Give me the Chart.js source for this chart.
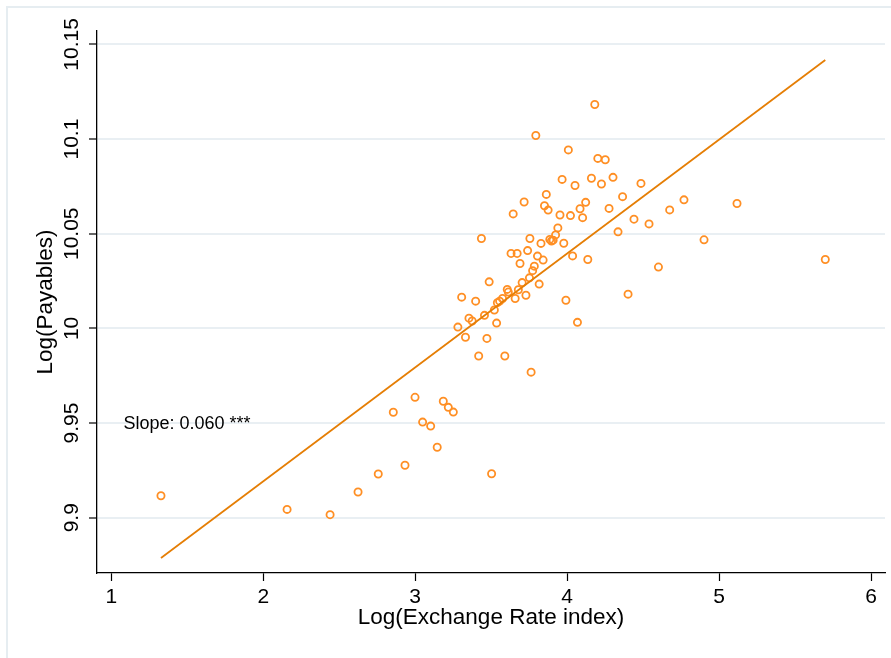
<!DOCTYPE html>
<html>
<head>
<meta charset="utf-8">
<title>Log(Payables) vs Log(Exchange Rate index)</title>
<script src="https://cdn.jsdelivr.net/npm/chart.js@4.4.0/dist/chart.umd.min.js"></script>
<style>
  html, body { margin: 0; padding: 0; background: #ffffff; }
  #wrap { width: 891px; height: 658px; }
</style>
</head>
<body>
<div id="wrap"><canvas id="chart" width="891" height="658"></canvas></div>
<script>
"use strict";

// Data
const xValues = [
  1.327, 2.157, 2.440, 2.624, 2.757, 2.856, 2.933, 2.999, 3.049, 3.102,
  3.145, 3.185, 3.218, 3.251, 3.503, 3.281, 3.331, 3.472, 3.418, 3.590,
  3.763, 3.354, 3.375, 3.456, 3.521, 3.536, 3.306, 3.398, 3.541, 3.556,
  3.575, 3.658, 3.729, 3.606, 3.613, 3.679, 3.487, 3.704, 3.816, 3.752,
  3.773, 3.784, 3.690, 3.842, 3.805, 3.631, 3.671, 3.740, 3.436, 3.755,
  3.828, 3.886, 3.908, 3.924, 3.939, 3.978, 4.036, 4.136, 3.992, 4.068,
  3.645, 3.717, 3.863, 3.851, 3.875, 3.794, 4.008, 3.953, 4.022, 4.102,
  4.085, 4.122, 3.967, 4.052, 4.160, 4.182, 4.202, 4.251, 4.302, 4.226,
  4.486, 4.365, 4.276, 4.440, 4.539, 4.335, 4.401, 4.601, 4.675, 4.769,
  4.901, 5.118, 5.699, 3.897
];
const yValues = [
  9.9116, 9.9044, 9.9016, 9.9136, 9.9231, 9.9557, 9.9277, 9.9636, 9.9505, 9.9484,
  9.9372, 9.9615, 9.9583, 9.9558, 9.9232, 10.0007, 9.9953, 9.9947, 9.9854, 9.9854,
  9.9769, 10.0054, 10.0039, 10.0069, 10.0097, 10.0028, 10.0165, 10.0144, 10.0136, 10.0144,
  10.0158, 10.0158, 10.0175, 10.0206, 10.0192, 10.0204, 10.0246, 10.0242, 10.0234, 10.0267,
  10.0305, 10.0329, 10.0343, 10.0361, 10.0382, 10.0396, 10.0396, 10.0411, 10.0475, 10.0475,
  10.0449, 10.0470, 10.0466, 10.0494, 10.0531, 10.0450, 10.0383, 10.0364, 10.0149, 10.0032,
  10.0605, 10.0668, 10.0708, 10.0648, 10.0625, 10.1019, 10.0943, 10.0599, 10.0596, 10.0585,
  10.0632, 10.0666, 10.0787, 10.0755, 10.0793, 10.1183, 10.0898, 10.0891, 10.0798, 10.0763,
  10.0766, 10.0696, 10.0634, 10.0577, 10.0552, 10.0510, 10.0181, 10.0324, 10.0626, 10.0679,
  10.0468, 10.0660, 10.0364, 10.0462
];

// Fitted line end points
const fitX = [1.327, 5.699];
const fitY = [9.8787, 10.1418];

// Axes
const xTickValues = [1, 2, 3, 4, 5, 6];
const xTickLabels = ["1", "2", "3", "4", "5", "6"];
const yTickValues = [9.9, 9.95, 10, 10.05, 10.1, 10.15];
const yTickLabels = ["9.9", "9.95", "10", "10.05", "10.1", "10.15"];
const xTitle = "Log(Exchange Rate index)";
const yTitle = "Log(Payables)";
const slopeNote = "Slope: 0.060 ***";
const slopeNoteAt = [1.08, 9.95];

const FONT = '"Liberation Sans", Arial, sans-serif';
const markerColor = "#ff8f24";
const lineColor = "#e57e05";
const gridColor = "#e9eff3";

const points = xValues.map((x, i) => ({ x, y: yValues[i] }));
const fitPoints = fitX.map((x, i) => ({ x, y: fitY[i] }));

// Draws tick labels, titles, note and outer frame by hand (rotated y labels)
const textPlugin = {
  id: "textPlugin",
  beforeDraw(chart) {
    const c = chart.ctx;
    c.save();
    c.strokeStyle = "#e6edf1";
    c.lineWidth = 2;
    c.strokeRect(7, 7, chart.width + 20, chart.height + 20);
    c.restore();
  },
  afterDraw(chart) {
    const { ctx: c, chartArea: area, scales } = chart;
    const xs = scales.x;
    const ys = scales.y;
    c.save();
    c.fillStyle = "#000000";
    c.textBaseline = "alphabetic";
    c.textAlign = "center";

    c.font = `21px ${FONT}`;
    xTickValues.forEach((v, i) => {
      c.fillText(xTickLabels[i], xs.getPixelForValue(v), area.bottom + 30);
    });
    yTickValues.forEach((v, i) => {
      c.save();
      c.translate(area.left - 19, ys.getPixelForValue(v));
      c.rotate(-Math.PI / 2);
      c.fillText(yTickLabels[i], 0, 0);
      c.restore();
    });

    c.font = `22.5px ${FONT}`;
    c.fillText(xTitle, (area.left + area.right) / 2, area.bottom + 51);
    c.save();
    c.translate(area.left - 45, (area.top + area.bottom) / 2);
    c.rotate(-Math.PI / 2);
    c.fillText(yTitle, 0, 0);
    c.restore();

    c.font = `18px ${FONT}`;
    c.textAlign = "left";
    c.fillText(slopeNote, xs.getPixelForValue(slopeNoteAt[0]), ys.getPixelForValue(slopeNoteAt[1]) + 6);
    c.restore();
  },
};

new Chart(document.getElementById("chart"), {
  type: "scatter",
  data: {
    datasets: [
      {
        type: "line",
        label: "Fitted values",
        data: fitPoints,
        borderColor: lineColor,
        borderWidth: 1.8,
        pointRadius: 0,
        fill: false,
        tension: 0,
      },
      {
        label: "Log(Payables)",
        data: points,
        pointStyle: "circle",
        pointRadius: 3.6,
        borderWidth: 1.8,
        borderColor: markerColor,
        backgroundColor: "rgba(0,0,0,0)",
      },
    ],
  },
  options: {
    responsive: false,
    animation: false,
    devicePixelRatio: 1,
    layout: { padding: { top: 31, right: 6, left: 0, bottom: 0 } },
    plugins: {
      legend: { display: false },
      tooltip: { enabled: false },
    },
    scales: {
      x: {
        type: "linear",
        min: 0.906,
        max: 6.092,
        afterBuildTicks: (scale) => { scale.ticks = xTickValues.map((value) => ({ value })); },
        afterFit: (scale) => { scale.height = 85; },
        ticks: { display: false },
        grid: { drawOnChartArea: false, drawTicks: true, tickLength: 8, tickColor: "#000000", tickWidth: 1.2 },
        border: { display: true, color: "#000000", width: 1.3 },
      },
      y: {
        type: "linear",
        min: 9.8708,
        max: 10.1571,
        afterBuildTicks: (scale) => { scale.ticks = yTickValues.map((value) => ({ value })); },
        afterFit: (scale) => { scale.width = 97; },
        ticks: { display: false },
        grid: { color: gridColor, lineWidth: 2, drawTicks: true, tickLength: 8, tickColor: "#000000", tickWidth: 1.2 },
        border: { display: true, color: "#000000", width: 1.3 },
      },
    },
  },
  plugins: [textPlugin],
});
</script>
</body>
</html>
